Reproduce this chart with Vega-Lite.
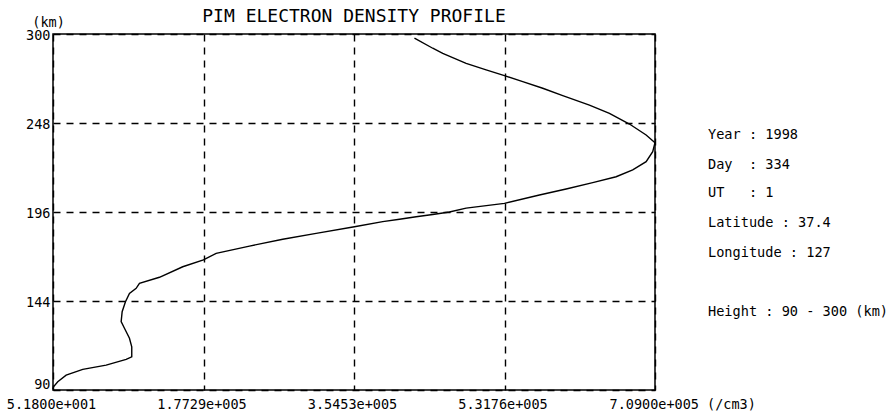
{
  "$schema": "https://vega.github.io/schema/vega-lite/v6.json",
  "width": 602,
  "height": 356,
  "autosize": {"type": "none"},
  "padding": {"left": 53, "top": 34, "right": 238, "bottom": 29},
  "background": "white",
  "config": {
    "view": {"stroke": "black", "strokeWidth": 1.5},
    "font": "DejaVu Sans Mono",
    "axis": {
      "labelFont": "DejaVu Sans Mono",
      "labelFontSize": 13.5,
      "labelColor": "black",
      "labelOverlap": false,
      "labelFlush": false,
      "titleFont": "DejaVu Sans Mono",
      "titleFontSize": 13.5,
      "titleFontWeight": "normal",
      "titleColor": "black",
      "ticks": false,
      "domain": false,
      "grid": true,
      "gridColor": "black",
      "gridDash": [7, 6],
      "gridWidth": 1.4,
      "gridOpacity": 1
    }
  },
  "title": {
    "text": "PIM ELECTRON DENSITY PROFILE",
    "font": "DejaVu Sans Mono",
    "fontSize": 18,
    "fontWeight": "normal",
    "color": "black",
    "anchor": "middle",
    "frame": "group",
    "offset": -11
  },
  "datasets": {
    "profile": [
      {"seq": 1, "density": 52, "height": 90.5},
      {"seq": 2, "density": 640, "height": 91.9},
      {"seq": 3, "density": 5650, "height": 94.9},
      {"seq": 4, "density": 15540, "height": 98.8},
      {"seq": 5, "density": 35090, "height": 102.2},
      {"seq": 6, "density": 62650, "height": 104.7},
      {"seq": 7, "density": 86200, "height": 108.1},
      {"seq": 8, "density": 92800, "height": 109.6},
      {"seq": 9, "density": 92800, "height": 115.5},
      {"seq": 10, "density": 90090, "height": 120.5},
      {"seq": 11, "density": 84200, "height": 126.4},
      {"seq": 12, "density": 80310, "height": 130.3},
      {"seq": 13, "density": 81490, "height": 136.2},
      {"seq": 14, "density": 85380, "height": 142.1},
      {"seq": 15, "density": 90090, "height": 147.0},
      {"seq": 16, "density": 97980, "height": 150.0},
      {"seq": 17, "density": 101860, "height": 152.9},
      {"seq": 18, "density": 125410, "height": 156.5},
      {"seq": 19, "density": 152850, "height": 162.7},
      {"seq": 20, "density": 177230, "height": 166.7},
      {"seq": 21, "density": 192180, "height": 170.6},
      {"seq": 22, "density": 231400, "height": 174.9},
      {"seq": 23, "density": 270610, "height": 178.9},
      {"seq": 24, "density": 309940, "height": 182.4},
      {"seq": 25, "density": 355050, "height": 186.3},
      {"seq": 26, "density": 388370, "height": 189.3},
      {"seq": 27, "density": 408130, "height": 190.7},
      {"seq": 28, "density": 427700, "height": 192.2},
      {"seq": 29, "density": 447250, "height": 193.5},
      {"seq": 30, "density": 466920, "height": 195.0},
      {"seq": 31, "density": 486580, "height": 197.3},
      {"seq": 32, "density": 531690, "height": 200.1},
      {"seq": 33, "density": 572900, "height": 205.0},
      {"seq": 34, "density": 604340, "height": 208.6},
      {"seq": 35, "density": 635670, "height": 212.3},
      {"seq": 36, "density": 663220, "height": 215.8},
      {"seq": 37, "density": 682770, "height": 219.8},
      {"seq": 38, "density": 698550, "height": 224.7},
      {"seq": 39, "density": 706320, "height": 230.6},
      {"seq": 40, "density": 709000, "height": 235.9},
      {"seq": 41, "density": 698550, "height": 240.4},
      {"seq": 42, "density": 678880, "height": 246.9},
      {"seq": 43, "density": 655330, "height": 253.2},
      {"seq": 44, "density": 631780, "height": 258.1},
      {"seq": 45, "density": 600340, "height": 263.6},
      {"seq": 46, "density": 576790, "height": 268.0},
      {"seq": 47, "density": 553240, "height": 271.9},
      {"seq": 48, "density": 531690, "height": 275.4},
      {"seq": 49, "density": 510130, "height": 278.8},
      {"seq": 50, "density": 486580, "height": 282.7},
      {"seq": 51, "density": 459030, "height": 288.6},
      {"seq": 52, "density": 447250, "height": 291.6},
      {"seq": 53, "density": 425700, "height": 297.5}
    ],
    "notes": [
      {"label": "Year : 1998", "density": 771400, "height": 240.4},
      {"label": "Day\u00a0\u00a0: 334", "density": 771400, "height": 222.7},
      {"label": "UT\u00a0\u00a0\u00a0: 1", "density": 771400, "height": 206.2},
      {"label": "Latitude : 37.4", "density": 771400, "height": 188.7},
      {"label": "Longitude : 127", "density": 771400, "height": 170.8},
      {"label": "Height : 90 - 300 (km)", "density": 771400, "height": 136.2}
    ]
  },
  "layer": [
    {
      "data": {"name": "profile"},
      "mark": {"type": "line", "color": "black", "strokeWidth": 1.4, "interpolate": "linear"},
      "encoding": {
        "x": {
          "field": "density",
          "type": "quantitative",
          "scale": {"domain": [51.8, 709000], "nice": false, "zero": false},
          "axis": {
            "title": null,
            "values": [51.8, 177289.35, 354526.9, 531764.45, 709000],
            "labelPadding": 7,
            "labelAlign": {"condition": {"test": "datum.value > 700000", "value": "left"}, "value": "center"},
            "labelOffset": {"condition": {"test": "datum.value > 700000", "value": -46}, "value": -2},
            "labelExpr": "datum.value < 100 ? '5.1800e+001' : datum.value < 200000 ? '1.7729e+005' : datum.value < 400000 ? '3.5453e+005' : datum.value < 600000 ? '5.3176e+005' : '7.0900e+005 (/cm3)'"
          }
        },
        "y": {
          "field": "height",
          "type": "quantitative",
          "scale": {"domain": [90, 300], "nice": false, "zero": false},
          "axis": {
            "title": "(km)",
            "titleAngle": 0,
            "titleAlign": "center",
            "titleBaseline": "middle",
            "titleX": -5,
            "titleY": -12,
            "values": [90, 142.5, 195, 247.5, 300],
            "labelPadding": 3,
            "labelOffset": 1.5,
            "labelBaseline": {"condition": {"test": "datum.value == 90", "value": "bottom"}, "value": "middle"},
            "labelExpr": "datum.value == 142.5 ? '144' : datum.value == 195 ? '196' : datum.value == 247.5 ? '248' : datum.label"
          }
        },
        "order": {"field": "seq", "type": "quantitative"}
      }
    },
    {
      "data": {"name": "notes"},
      "mark": {"type": "text", "align": "left", "baseline": "middle", "font": "DejaVu Sans Mono", "fontSize": 13.6, "color": "black", "clip": false},
      "encoding": {
        "x": {"field": "density", "type": "quantitative"},
        "y": {"field": "height", "type": "quantitative"},
        "text": {"field": "label"}
      }
    }
  ]
}
